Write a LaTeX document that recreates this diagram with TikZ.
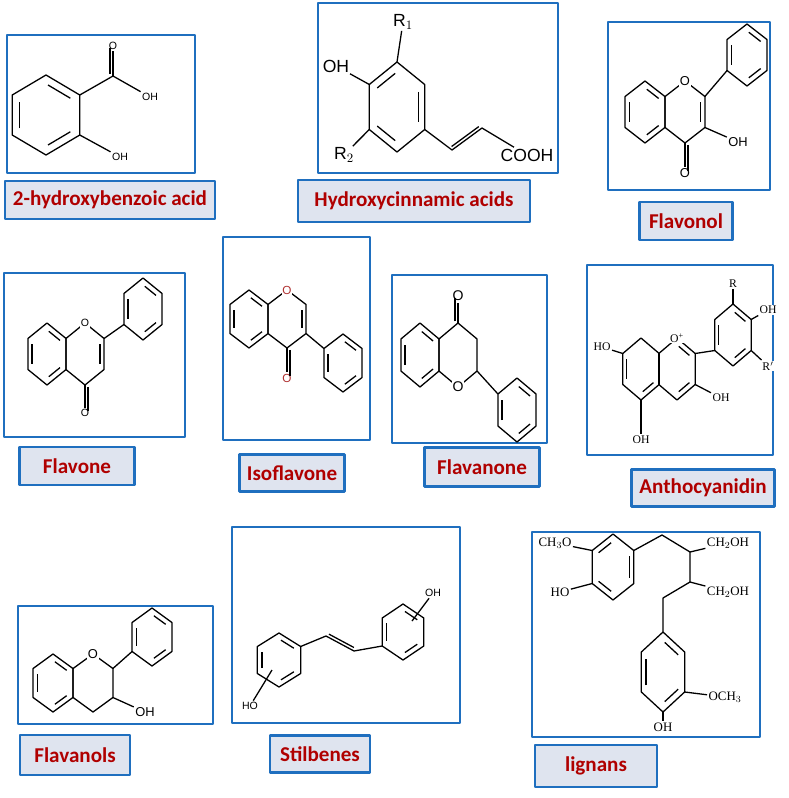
\documentclass[tikz,border=0pt]{standalone}
\usepackage{fontspec}
\setmainfont{Liberation Sans}
\newfontfamily\seriffont{Liberation Serif}
\newfontfamily\lblfont{Carlito}
\usetikzlibrary{calc}
\definecolor{frameblue}{HTML}{1F6FBF}
\definecolor{lblfill}{HTML}{DFE4EF}
\definecolor{lblred}{HTML}{B00000}
\definecolor{ored}{HTML}{B03030}

% pointy-top ring: name, cx, cy, rx, ry
\newcommand{\hexring}[5]{%
  \foreach \k/\a in {1/-90,2/-30,3/30,4/90,5/150,6/210}
    \coordinate (#1-\k) at ({#2+#4*cos(\a)},{#3+#5*sin(\a)});
  \coordinate (#1) at (#2,#3);
  \draw (#1-1)--(#1-2)--(#1-3)--(#1-4)--(#1-5)--(#1-6)--cycle;}
% inner double bond of a ring
\newcommand{\dbl}[3]{\draw[shorten <=2pt,shorten >=2pt] ($(#1-#2)!0.22!(#1)$) -- ($(#1-#3)!0.22!(#1)$);}
% parallel line of a double bond
\newcommand{\pbond}[2]{\draw[shorten <=1.5pt,shorten >=1.5pt] ($(#1)!2.6pt!90:(#2)$) -- ($(#2)!2.6pt!-90:(#1)$);}

\begin{document}
\begin{tikzpicture}[x=0.03cm,y=-0.03cm,line width=1.1pt,line join=round]
\tikzstyle{frame}=[draw=frameblue,line width=2.2pt]
\tikzstyle{lbl}=[draw=frameblue,line width=2pt,fill=lblfill,text=lblred,font=\lblfont\bfseries\fontsize{18}{20}\selectfont,inner sep=0pt]
\tikzstyle{atom}=[fill=white,inner sep=0.8pt]
\useasboundingbox (0,0) rectangle (789,798);

% frames
\draw[frame] (7,35) rectangle (195,173);
\draw[frame] (318,3) rectangle (558,173);
\draw[frame] (608,22) rectangle (770,190);
\draw[frame] (4,273) rectangle (185,437);
\draw[frame] (223,237) rectangle (370,440);
\draw[frame] (392,275) rectangle (547,443);
\draw[frame] (587,265) rectangle (773,455);
\draw[frame] (18,606) rectangle (213,724);
\draw[frame] (232,527) rectangle (460,723);
\draw[frame] (532,532) rectangle (760,737);

% labels
\node[lbl,minimum width=6.3cm,minimum height=1.14cm] (lab1) at (110,200) {2-hydroxybenzoic acid};
\node[lbl,minimum width=6.96cm,minimum height=1.26cm] (lab2) at (414,201) {Hydroxycinnamic acids};
\node[lbl,minimum width=2.79cm,minimum height=1.14cm] (lab3) at (686,221) {Flavonol};
\node[lbl,minimum width=3.45cm,minimum height=1.14cm] (lab4) at (77,466) {Flavone};
\node[lbl,minimum width=3.15cm,minimum height=1.11cm] (lab5) at (292,473) {Isoflavone};
\node[lbl,minimum width=3.45cm,minimum height=1.17cm] (lab6) at (482,467) {Flavanone};
\node[lbl,minimum width=4.29cm,minimum height=1.11cm] (lab7) at (703,488) {Anthocyanidin};
\node[lbl,minimum width=3.3cm,minimum height=1.2cm] (lab8) at (75,755) {Flavanols};
\node[lbl,minimum width=3cm,minimum height=1.11cm] (lab9) at (320,754) {Stilbenes};
\node[lbl,minimum width=3.66cm,minimum height=1.26cm] (lab10) at (596,766) {lignans};

% 2-hydroxybenzoic acid
\begin{scope}[every node/.style={atom,font=\fontsize{9}{10}\selectfont}]
\hexring{sa}{46}{115}{39}{40}
\dbl{sa}{1}{2} \dbl{sa}{5}{6} \dbl{sa}{3}{4}
\coordinate (sac) at (113,76);
\node (sao) at (113,46) {O};
\node (sah) at (150,97) {OH};
\node (sah2) at (120,157) {OH};
\draw (sa-2)--(sac)--(sah);
\draw (sac)--(sao); \pbond{sac}{sao}
\draw (sa-3)--(sah2);
\end{scope}

% hydroxycinnamic acids
\begin{scope}[every node/.style={atom,font=\fontsize{15}{16}\selectfont}]
\hexring{hc}{397}{107}{32}{45}
\dbl{hc}{6}{1} \dbl{hc}{2}{3} \dbl{hc}{4}{5}
\node (hr1) at (403,22) {R$_1$};
\node (hoh) at (336,66) {OH};
\node (hr2) at (344,155) {R$_2$};
\coordinate (hca) at (452,150);
\coordinate (hcb) at (482,128);
\node (hco) at (527,155) {COOH};
\draw (hc-1)--(hr1); \draw (hc-6)--(hoh); \draw (hc-5)--(hr2);
\draw (hc-3)--(hca)--(hcb)--(hco); \pbond{hca}{hcb}
\end{scope}

% flavonol
\begin{scope}[every node/.style={atom,font=\fontsize{11}{12}\selectfont}]
\hexring{fa}{645}{112}{23}{31}
\hexring{fc}{685}{112}{23}{31}
\hexring{fb}{747}{55}{23}{31}
\dbl{fa}{5}{6} \dbl{fa}{1}{2} \dbl{fa}{3}{4} \dbl{fc}{2}{3}
\dbl{fb}{1}{2} \dbl{fb}{3}{4} \dbl{fb}{5}{6}
\draw (fc-2)--(fb-5);
\node (fh) at (738,142) {OH};
\node (fo) at (685,173) {O};
\draw (fc-3)--(fh); \draw (fc-4)--(fo); \pbond{fc-4}{fo}
\node (fr) at (fc-1) {O};
\end{scope}

% flavone
\begin{scope}[every node/.style={atom,font=\fontsize{9}{10}\selectfont}]
\hexring{va}{47}{354}{22}{31}
\hexring{vc}{85}{354}{22}{31}
\hexring{vb}{143}{309}{22}{31}
\dbl{va}{5}{6} \dbl{va}{1}{2} \dbl{va}{3}{4} \dbl{vc}{2}{3}
\dbl{vb}{1}{2} \dbl{vb}{3}{4} \dbl{vb}{5}{6}
\draw (vc-2)--(vb-5);
\node (vo) at (85,413) {O};
\draw (vc-4)--(vo); \pbond{vc-4}{vo}
\node (vr) at (vc-1) {O};
\end{scope}

% isoflavone
\begin{scope}[every node/.style={atom,text=ored,font=\fontsize{10}{11}\selectfont}]
\hexring{ia}{249}{319}{22}{29}
\hexring{ic}{287}{319}{22}{29}
\hexring{ib}{343}{363}{22}{29}
\dbl{ia}{5}{6} \dbl{ia}{1}{2} \dbl{ia}{3}{4} \dbl{ic}{2}{3}
\dbl{ib}{1}{2} \dbl{ib}{3}{4} \dbl{ib}{5}{6}
\draw (ic-3)--(ib-6);
\node (io) at (287,378) {O};
\draw (ic-4)--(io); \pbond{ic-4}{io}
\node (ir) at (ic-1) {O};
\end{scope}

% flavanone
\begin{scope}[every node/.style={atom,font=\fontsize{12}{13}\selectfont}]
\hexring{na}{420}{355}{22}{32}
\hexring{nc}{458}{355}{22}{32}
\hexring{nb}{517}{410}{22}{32}
\dbl{na}{5}{6} \dbl{na}{1}{2} \dbl{na}{3}{4}
\dbl{nb}{1}{2} \dbl{nb}{3}{4} \dbl{nb}{5}{6}
\draw (nc-3)--(nb-6);
\node (no) at (458,296) {O};
\draw (nc-1)--(no); \pbond{nc-1}{no}
\node (nr) at (nc-4) {O};
\end{scope}

% anthocyanidin
\begin{scope}[every node/.style={atom,font=\seriffont\fontsize{10}{11}\selectfont}]
\hexring{aa}{641}{369}{21}{31}
\hexring{ac}{677}{369}{21}{31}
\hexring{ab}{733}{335}{21}{31}
\dbl{aa}{5}{6} \dbl{aa}{3}{4} \dbl{ac}{1}{2} \dbl{ac}{3}{4}
\dbl{ab}{5}{6} \dbl{ab}{1}{2} \dbl{ab}{3}{4}
\draw (ac-2)--(ab-5);
\node (ahl) at (602,347) {HO};
\node (ahb) at (641,440) {OH};
\node (ahc) at (721,398) {OH};
\node (ar) at (733,284) {R};
\node (ahr) at (768,310) {OH};
\node (ar2) at (768,366) {R$'$};
\draw (aa-6)--(ahl); \draw (aa-4)--(ahb); \draw (ac-3)--(ahc);
\draw (ab-1)--(ar); \draw (ab-2)--(ahr); \draw (ab-3)--(ar2);
\node (arr) at (ac-1) {O\textsuperscript{+}};
\end{scope}

% flavanols
\begin{scope}[every node/.style={atom,font=\fontsize{11}{12}\selectfont}]
\hexring{ta}{53}{683}{23}{29}
\hexring{tc}{93}{683}{23}{29}
\hexring{tb}{152}{637}{23}{29}
\dbl{ta}{5}{6} \dbl{ta}{1}{2} \dbl{ta}{3}{4}
\dbl{tb}{1}{2} \dbl{tb}{3}{4} \dbl{tb}{5}{6}
\draw (tc-2)--(tb-5);
\node (th) at (145,712) {OH};
\draw (tc-3)--(th);
\node (tr) at (tc-1) {O};
\end{scope}

% stilbenes
\begin{scope}[every node/.style={atom,font=\fontsize{9}{10}\selectfont}]
\hexring{sl}{279}{660}{25}{27}
\hexring{sr}{403}{632}{24}{28}
\dbl{sl}{1}{2} \dbl{sl}{3}{4} \dbl{sl}{5}{6}
\dbl{sr}{1}{2} \dbl{sr}{3}{4} \dbl{sr}{5}{6}
\coordinate (sc1) at (326,636);
\coordinate (sc2) at (354,651);
\draw (sl-2)--(sc1)--(sc2)--(sr-5); \pbond{sc1}{sc2}
\coordinate (srx) at (412,621);
\coordinate (slx) at (272,670);
\node (so) at (433,593) {OH};
\node (sh) at (250,706) {HO};
\draw (srx)--(so); \draw (slx)--(sh);
\end{scope}

% lignans
\begin{scope}[every node/.style={atom,font=\seriffont\fontsize{11}{12}\selectfont}]
\hexring{la}{613}{567}{24}{33}
\hexring{lb}{663}{672}{25}{40}
\dbl{la}{6}{1} \dbl{la}{2}{3} \dbl{la}{4}{5}
\dbl{lb}{5}{6} \dbl{lb}{1}{2} \dbl{lb}{3}{4}
\coordinate (lc1) at (662,535);
\coordinate (lc2) at (690,552);
\coordinate (lc3) at (690,582);
\coordinate (lc4) at (663,598);
\draw (la-2)--(lc1)--(lc2)--(lc3)--(lc4)--(lb-1);
\node (lm) at (555,543) {CH$_3$O};
\node (lh) at (560,592) {HO};
\node (lo1) at (728,543) {CH$_2$OH};
\node (lo2) at (728,592) {CH$_2$OH};
\node (lm2) at (725,697) {OCH$_3$};
\node (lh2) at (663,727) {OH};
\draw (la-6)--(lm); \draw (la-5)--(lh);
\draw (lc2)--(lo1); \draw (lc3)--(lo2);
\draw (lb-3)--(lm2); \draw (lb-4)--(lh2);
\end{scope}
\end{tikzpicture}
\end{document}
